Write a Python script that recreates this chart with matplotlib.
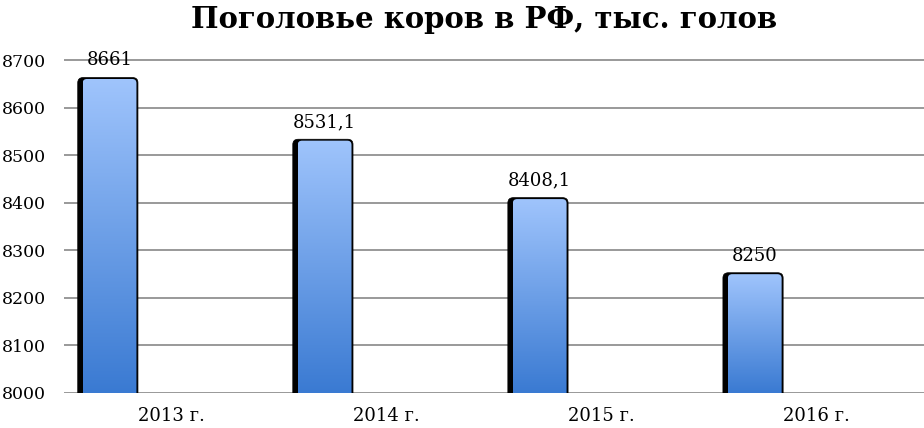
import matplotlib
matplotlib.use("Agg")
import matplotlib.pyplot as plt
import numpy as np
from matplotlib.patches import FancyBboxPatch
from matplotlib.colors import LinearSegmentedColormap

categories = ["2013 г.", "2014 г.", "2015 г.", "2016 г."]
values = [8661, 8531.1, 8408.1, 8250]
value_labels = ["8661", "8531,1", "8408,1", "8250"]
yticks = [8000, 8100, 8200, 8300, 8400, 8500, 8600, 8700]

plt.rcParams['font.family'] = ['DejaVu Serif']

fig = plt.figure(figsize=(9.24, 4.28), dpi=100)
ax = fig.add_axes([0.069, 0.082, 0.931, 0.779])

ymin = 8000
ax.set_xlim(-0.5, len(categories) - 0.5)
ax.set_ylim(ymin, 8702)

x = np.arange(len(categories))
offset = -0.287
width = 0.25

cmap = LinearSegmentedColormap.from_list("g", ["#3a7ad2", "#9fc4fc"])
grad = np.linspace(0, 1, 256).reshape(-1, 1)

bars = ax.bar(x + offset, np.array(values) - ymin, width, bottom=ymin,
              color="none", edgecolor="none", zorder=3)

ext = 30  # extend below axis so bottom corners are clipped square
for b, lab in zip(bars, value_labels):
    x0 = b.get_x(); w = b.get_width(); h = b.get_height(); y0 = b.get_y()
    sh = FancyBboxPatch((x0 - 0.023, y0 - ext), w + 0.03, h + 3 + ext,
                        boxstyle="round,pad=0,rounding_size=0.025",
                        mutation_aspect=440, facecolor="black",
                        edgecolor="black", lw=0.5, zorder=3)
    ax.add_patch(sh)
    fb = FancyBboxPatch((x0, y0 - ext), w, h + ext,
                        boxstyle="round,pad=0,rounding_size=0.02",
                        mutation_aspect=440, facecolor="none",
                        edgecolor="none", lw=0, zorder=5)
    ax.add_patch(fb)
    im = ax.imshow(grad, extent=[x0, x0 + w, y0, y0 + h], origin="lower",
                   cmap=cmap, aspect="auto", zorder=4, interpolation="bilinear")
    im.set_clip_path(fb)
    ax.text(x0 + w / 2, y0 + h + 20, lab, ha="center", va="bottom",
            fontsize=13, color="black", zorder=6)

ax.set_aspect("auto")
ax.set_xlim(-0.5, len(categories) - 0.5)
ax.set_ylim(ymin, 8702)

ax.set_yticks(yticks)
ax.set_yticklabels([str(t) for t in yticks], fontsize=12.5)
ax.set_xticks(x)
ax.set_xticklabels(categories, fontsize=13)
ax.tick_params(axis="x", length=0, pad=10)
ax.tick_params(axis="y", length=0, pad=13)

ax.yaxis.grid(True, color="#999999", lw=1.4, zorder=1)
ax.set_axisbelow(True)
for s in ax.spines.values():
    s.set_visible(False)

fig.text(0.524, 0.955, "Поголовье коров в РФ, тыс. голов", ha="center", va="center",
         fontsize=21, fontweight="bold")

fig.savefig("out.png", dpi=100)
